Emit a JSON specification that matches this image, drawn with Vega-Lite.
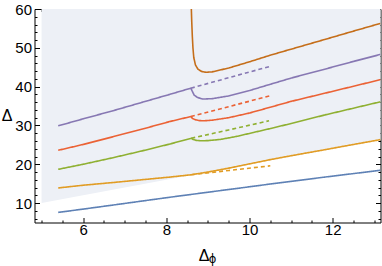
{
  "$schema": "https://vega.github.io/schema/vega-lite/v6.json",
  "width": 346,
  "height": 213.5,
  "autosize": {"type": "none"},
  "padding": {"left": 34.5, "top": 9, "right": 1.5, "bottom": 43.5},
  "background": "white",
  "title": {"text": "ϕ", "orient": "bottom", "font": "DejaVu Sans", "fontSize": 11.5, "fontWeight": "normal", "color": "black", "dx": 5, "offset": -9},
  "config": {
    "view": {"stroke": null},
    "axis": {
      "domainColor": "black", "domainWidth": 1, "tickColor": "black", "tickWidth": 1,
      "grid": false, "labelFont": "Liberation Sans", "labelFontSize": 15, "labelColor": "black",
      "titleFont": "Liberation Sans", "titleFontSize": 16, "titleFontWeight": "normal", "titleColor": "black",
      "labelOverlap": false, "labelFlush": false, "zindex": 1
    }
  },
  "datasets": {
    "shade": [
      {"x": 5.0, "lo": 10.0, "hi": 60},
      {"x": 13.2, "lo": 26.4, "hi": 60}
    ],
    "curves": [
      {"s": "b", "k": "solid", "x": 5.4, "y": 7.6},
      {"s": "b", "k": "solid", "x": 6.0, "y": 8.45},
      {"s": "b", "k": "solid", "x": 6.72, "y": 9.5},
      {"s": "b", "k": "solid", "x": 7.4, "y": 10.5},
      {"s": "b", "k": "solid", "x": 8.08, "y": 11.5},
      {"s": "b", "k": "solid", "x": 9.0, "y": 12.8},
      {"s": "b", "k": "solid", "x": 10.0, "y": 14.2},
      {"s": "b", "k": "solid", "x": 10.49, "y": 14.9},
      {"s": "b", "k": "solid", "x": 11.81, "y": 16.7},
      {"s": "b", "k": "solid", "x": 13.15, "y": 18.45},

      {"s": "o", "k": "solid", "x": 5.4, "y": 13.9},
      {"s": "o", "k": "solid", "x": 6.0, "y": 14.6},
      {"s": "o", "k": "solid", "x": 6.72, "y": 15.3},
      {"s": "o", "k": "solid", "x": 7.4, "y": 16.0},
      {"s": "o", "k": "solid", "x": 8.08, "y": 16.7},
      {"s": "o", "k": "solid", "x": 8.6, "y": 17.3},
      {"s": "o", "k": "solid", "x": 9.0, "y": 18.0},
      {"s": "o", "k": "solid", "x": 9.5, "y": 19.0},
      {"s": "o", "k": "solid", "x": 10.0, "y": 20.1},
      {"s": "o", "k": "solid", "x": 10.5, "y": 21.2},
      {"s": "o", "k": "solid", "x": 11.0, "y": 22.2},
      {"s": "o", "k": "solid", "x": 11.81, "y": 23.75},
      {"s": "o", "k": "solid", "x": 12.5, "y": 25.1},
      {"s": "o", "k": "solid", "x": 13.15, "y": 26.35},
      {"s": "o", "k": "dashed", "x": 8.6, "y": 17.3},
      {"s": "o", "k": "dashed", "x": 9.5, "y": 18.4},
      {"s": "o", "k": "dashed", "x": 10.5, "y": 19.6},

      {"s": "g", "k": "solid", "x": 5.4, "y": 18.7},
      {"s": "g", "k": "solid", "x": 6.0, "y": 20.0},
      {"s": "g", "k": "solid", "x": 6.72, "y": 21.7},
      {"s": "g", "k": "solid", "x": 7.4, "y": 23.4},
      {"s": "g", "k": "solid", "x": 8.08, "y": 25.2},
      {"s": "g", "k": "solid", "x": 8.6, "y": 26.7},
      {"s": "g", "k": "solid", "x": 8.65, "y": 26.35},
      {"s": "g", "k": "solid", "x": 8.72, "y": 26.15},
      {"s": "g", "k": "solid", "x": 8.85, "y": 26.05},
      {"s": "g", "k": "solid", "x": 9.0, "y": 26.1},
      {"s": "g", "k": "solid", "x": 9.3, "y": 26.4},
      {"s": "g", "k": "solid", "x": 9.7, "y": 27.2},
      {"s": "g", "k": "solid", "x": 10.1, "y": 28.2},
      {"s": "g", "k": "solid", "x": 10.5, "y": 29.2},
      {"s": "g", "k": "solid", "x": 11.0, "y": 30.5},
      {"s": "g", "k": "solid", "x": 11.81, "y": 32.7},
      {"s": "g", "k": "solid", "x": 12.5, "y": 34.45},
      {"s": "g", "k": "solid", "x": 13.15, "y": 36.1},
      {"s": "g", "k": "dashed", "x": 8.6, "y": 26.7},
      {"s": "g", "k": "dashed", "x": 9.5, "y": 28.85},
      {"s": "g", "k": "dashed", "x": 10.47, "y": 31.2},

      {"s": "r", "k": "solid", "x": 5.4, "y": 23.6},
      {"s": "r", "k": "solid", "x": 6.0, "y": 25.1},
      {"s": "r", "k": "solid", "x": 6.72, "y": 27.1},
      {"s": "r", "k": "solid", "x": 7.4, "y": 29.0},
      {"s": "r", "k": "solid", "x": 8.08, "y": 31.0},
      {"s": "r", "k": "solid", "x": 8.59, "y": 32.3},
      {"s": "r", "k": "solid", "x": 8.63, "y": 31.8},
      {"s": "r", "k": "solid", "x": 8.7, "y": 31.45},
      {"s": "r", "k": "solid", "x": 8.8, "y": 31.25},
      {"s": "r", "k": "solid", "x": 8.9, "y": 31.2},
      {"s": "r", "k": "solid", "x": 9.1, "y": 31.35},
      {"s": "r", "k": "solid", "x": 9.5, "y": 32.0},
      {"s": "r", "k": "solid", "x": 10.0, "y": 33.2},
      {"s": "r", "k": "solid", "x": 10.5, "y": 34.7},
      {"s": "r", "k": "solid", "x": 11.0, "y": 36.2},
      {"s": "r", "k": "solid", "x": 11.81, "y": 38.3},
      {"s": "r", "k": "solid", "x": 12.5, "y": 40.1},
      {"s": "r", "k": "solid", "x": 13.15, "y": 41.8},
      {"s": "r", "k": "dashed", "x": 8.59, "y": 32.3},
      {"s": "r", "k": "dashed", "x": 9.5, "y": 34.85},
      {"s": "r", "k": "dashed", "x": 10.52, "y": 37.7},

      {"s": "p", "k": "solid", "x": 5.4, "y": 29.9},
      {"s": "p", "k": "solid", "x": 6.0, "y": 31.7},
      {"s": "p", "k": "solid", "x": 6.72, "y": 33.8},
      {"s": "p", "k": "solid", "x": 7.4, "y": 35.9},
      {"s": "p", "k": "solid", "x": 8.08, "y": 38.0},
      {"s": "p", "k": "solid", "x": 8.59, "y": 39.6},
      {"s": "p", "k": "solid", "x": 8.62, "y": 38.9},
      {"s": "p", "k": "solid", "x": 8.67, "y": 37.8},
      {"s": "p", "k": "solid", "x": 8.75, "y": 37.2},
      {"s": "p", "k": "solid", "x": 8.88, "y": 36.8},
      {"s": "p", "k": "solid", "x": 9.1, "y": 36.9},
      {"s": "p", "k": "solid", "x": 9.5, "y": 37.6},
      {"s": "p", "k": "solid", "x": 10.0, "y": 39.0},
      {"s": "p", "k": "solid", "x": 10.5, "y": 40.6},
      {"s": "p", "k": "solid", "x": 11.0, "y": 42.2},
      {"s": "p", "k": "solid", "x": 11.81, "y": 44.5},
      {"s": "p", "k": "solid", "x": 12.5, "y": 46.5},
      {"s": "p", "k": "solid", "x": 13.15, "y": 48.3},
      {"s": "p", "k": "dashed", "x": 8.59, "y": 39.6},
      {"s": "p", "k": "dashed", "x": 9.5, "y": 42.3},
      {"s": "p", "k": "dashed", "x": 10.52, "y": 45.3},

      {"s": "n", "k": "solid", "x": 8.6, "y": 60.5},
      {"s": "n", "k": "solid", "x": 8.61, "y": 57.0},
      {"s": "n", "k": "solid", "x": 8.625, "y": 53.0},
      {"s": "n", "k": "solid", "x": 8.64, "y": 50.0},
      {"s": "n", "k": "solid", "x": 8.66, "y": 47.5},
      {"s": "n", "k": "solid", "x": 8.7, "y": 45.6},
      {"s": "n", "k": "solid", "x": 8.76, "y": 44.5},
      {"s": "n", "k": "solid", "x": 8.85, "y": 43.9},
      {"s": "n", "k": "solid", "x": 8.95, "y": 43.7},
      {"s": "n", "k": "solid", "x": 9.1, "y": 43.8},
      {"s": "n", "k": "solid", "x": 9.5, "y": 44.8},
      {"s": "n", "k": "solid", "x": 10.0, "y": 46.4},
      {"s": "n", "k": "solid", "x": 10.5, "y": 48.1},
      {"s": "n", "k": "solid", "x": 11.0, "y": 49.65},
      {"s": "n", "k": "solid", "x": 11.81, "y": 52.15},
      {"s": "n", "k": "solid", "x": 12.5, "y": 54.3},
      {"s": "n", "k": "solid", "x": 13.15, "y": 56.3}
    ]
  },
  "layer": [
    {
      "data": {"name": "shade"},
      "mark": {"type": "area", "color": "#EDF0F6", "clip": true},
      "encoding": {
        "x": {
          "field": "x", "type": "quantitative",
          "scale": {"domain": [4.83, 13.15], "nice": false, "zero": false},
          "axis": {
            "orient": "bottom",
            "values": [5, 5.5, 6, 6.5, 7, 7.5, 8, 8.5, 9, 9.5, 10, 10.5, 11, 11.5, 12, 12.5, 13],
            "labelExpr": "datum.value % 2 === 0 ? format(datum.value, 'd') : ''",
            "tickSize": {"condition": {"test": "datum.value % 2 !== 0", "value": -2.5}, "value": -5},
            "labelPadding": 5,
            "title": "Δ",
            "titleX": 169,
            "titleAlign": "center",
            "titlePadding": 7
          }
        },
        "y": {
          "field": "lo", "type": "quantitative",
          "scale": {"domain": [5, 60], "nice": false, "zero": false},
          "axis": {
            "orient": "left",
            "values": [6, 8, 10, 12, 14, 16, 18, 20, 22, 24, 26, 28, 30, 32, 34, 36, 38, 40, 42, 44, 46, 48, 50, 52, 54, 56, 58, 60],
            "labelExpr": "datum.value % 10 === 0 ? datum.label : ''",
            "tickSize": {"condition": {"test": "datum.value % 10 !== 0", "value": -2.5}, "value": -5},
            "labelPadding": 8,
            "title": "Δ",
            "titleAngle": 0,
            "titleAlign": "center",
            "titleBaseline": "middle",
            "titleX": -28,
            "titleY": 106
          }
        },
        "y2": {"field": "hi"}
      }
    },
    {
      "data": {"name": "curves"},
      "mark": {"type": "line", "clip": true, "strokeWidth": 1.6},
      "encoding": {
        "x": {
          "field": "x", "type": "quantitative",
          "scale": {"domain": [4.83, 13.15], "nice": false, "zero": false},
          "axis": {
            "orient": "top",
            "values": [5, 5.5, 6, 6.5, 7, 7.5, 8, 8.5, 9, 9.5, 10, 10.5, 11, 11.5, 12, 12.5, 13],
            "labels": false,
            "tickSize": {"condition": {"test": "datum.value % 2 !== 0", "value": -2.5}, "value": -5},
            "title": null
          }
        },
        "y": {
          "field": "y", "type": "quantitative",
          "scale": {"domain": [5, 60], "nice": false, "zero": false},
          "axis": {
            "orient": "right",
            "values": [6, 8, 10, 12, 14, 16, 18, 20, 22, 24, 26, 28, 30, 32, 34, 36, 38, 40, 42, 44, 46, 48, 50, 52, 54, 56, 58, 60],
            "labels": false,
            "tickSize": {"condition": {"test": "datum.value % 10 !== 0", "value": -2.5}, "value": -5},
            "title": null
          }
        },
        "color": {
          "field": "s", "type": "nominal", "legend": null,
          "scale": {"domain": ["b", "o", "g", "r", "p", "n"], "range": ["#5E81B5", "#E19C24", "#8FB032", "#EB6235", "#8778B3", "#C56E1A"]}
        },
        "strokeDash": {
          "field": "k", "type": "nominal", "legend": null,
          "scale": {"domain": ["solid", "dashed"], "range": [[1, 0], [4, 3]]}
        }
      }
    }
  ],
  "resolve": {"axis": {"x": "independent", "y": "independent"}}
}
